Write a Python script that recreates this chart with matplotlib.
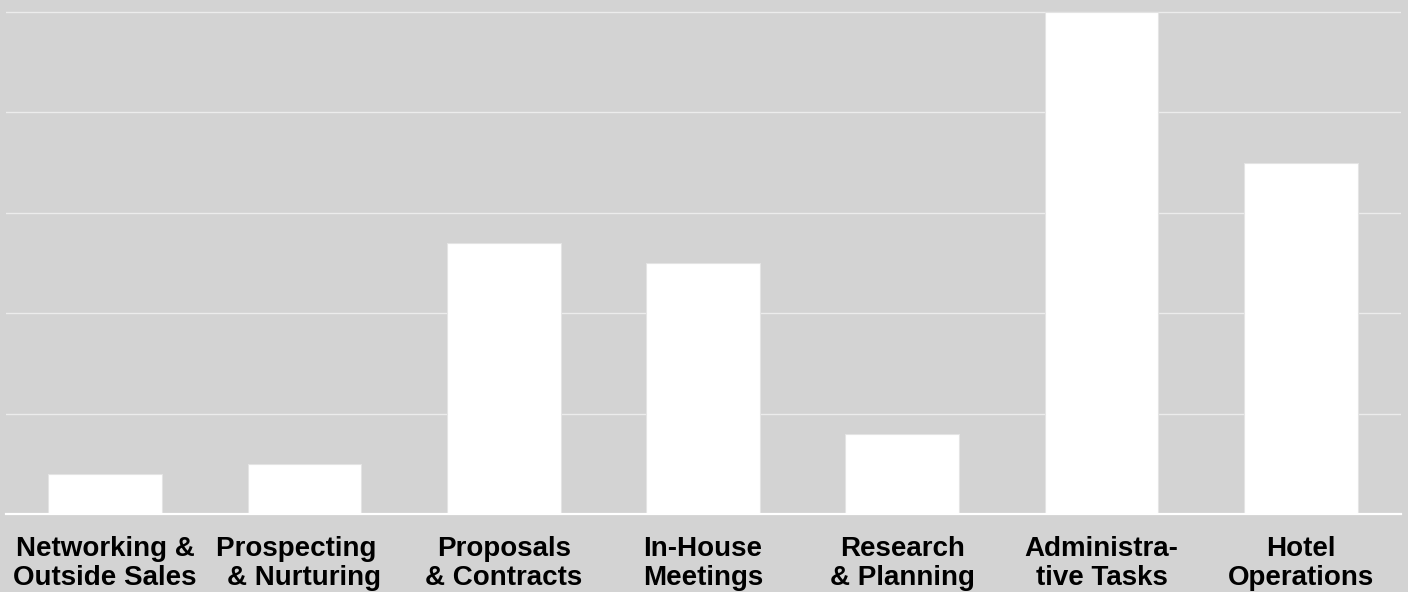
import matplotlib.pyplot as plt

# share of time per activity (5-unit grid)
categories = [
    "Networking &\nOutside Sales",
    "Prospecting  \n& Nurturing",
    "Proposals\n& Contracts",
    "In-House\nMeetings",
    "Research\n& Planning",
    "Administra-\ntive Tasks",
    "Hotel\nOperations",
]
values = [2, 2.5, 13.5, 12.5, 4, 25, 17.5]
yticks = [0, 5, 10, 15, 20, 25]

bg = "#d3d3d3"
plt.rcParams["font.family"] = ["Liberation Sans", "DejaVu Sans"]

fig = plt.figure(figsize=(14.08, 5.92), dpi=100, facecolor=bg)
ax = fig.add_axes([5.5 / 1408, 78 / 592, 1395 / 1408, 514 / 592])
ax.set_facecolor(bg)

x = range(len(categories))
ax.bar(x, values, width=0.57, color="white", edgecolor="#e4e4e4", linewidth=0.8, zorder=2)

ax.set_xlim(-0.5, len(categories) - 0.5)
ax.set_ylim(0, 25.6)
ax.set_yticks(yticks)
ax.yaxis.grid(True, color="#ececec", linewidth=1.0, zorder=1)
ax.set_axisbelow(True)
ax.tick_params(axis="y", left=False, labelleft=False)

ax.set_xticks(list(x))
ax.set_xticklabels(categories, fontsize=20, fontweight="bold", color="black",
                   linespacing=1.12)
ax.tick_params(axis="x", length=0, pad=16)

for side in ["top", "left", "right"]:
    ax.spines[side].set_visible(False)
ax.spines["bottom"].set_color("white")
ax.spines["bottom"].set_linewidth(1.6)
ax.spines["bottom"].set_zorder(3)

fig.savefig("out.png", dpi=100, facecolor=bg)
